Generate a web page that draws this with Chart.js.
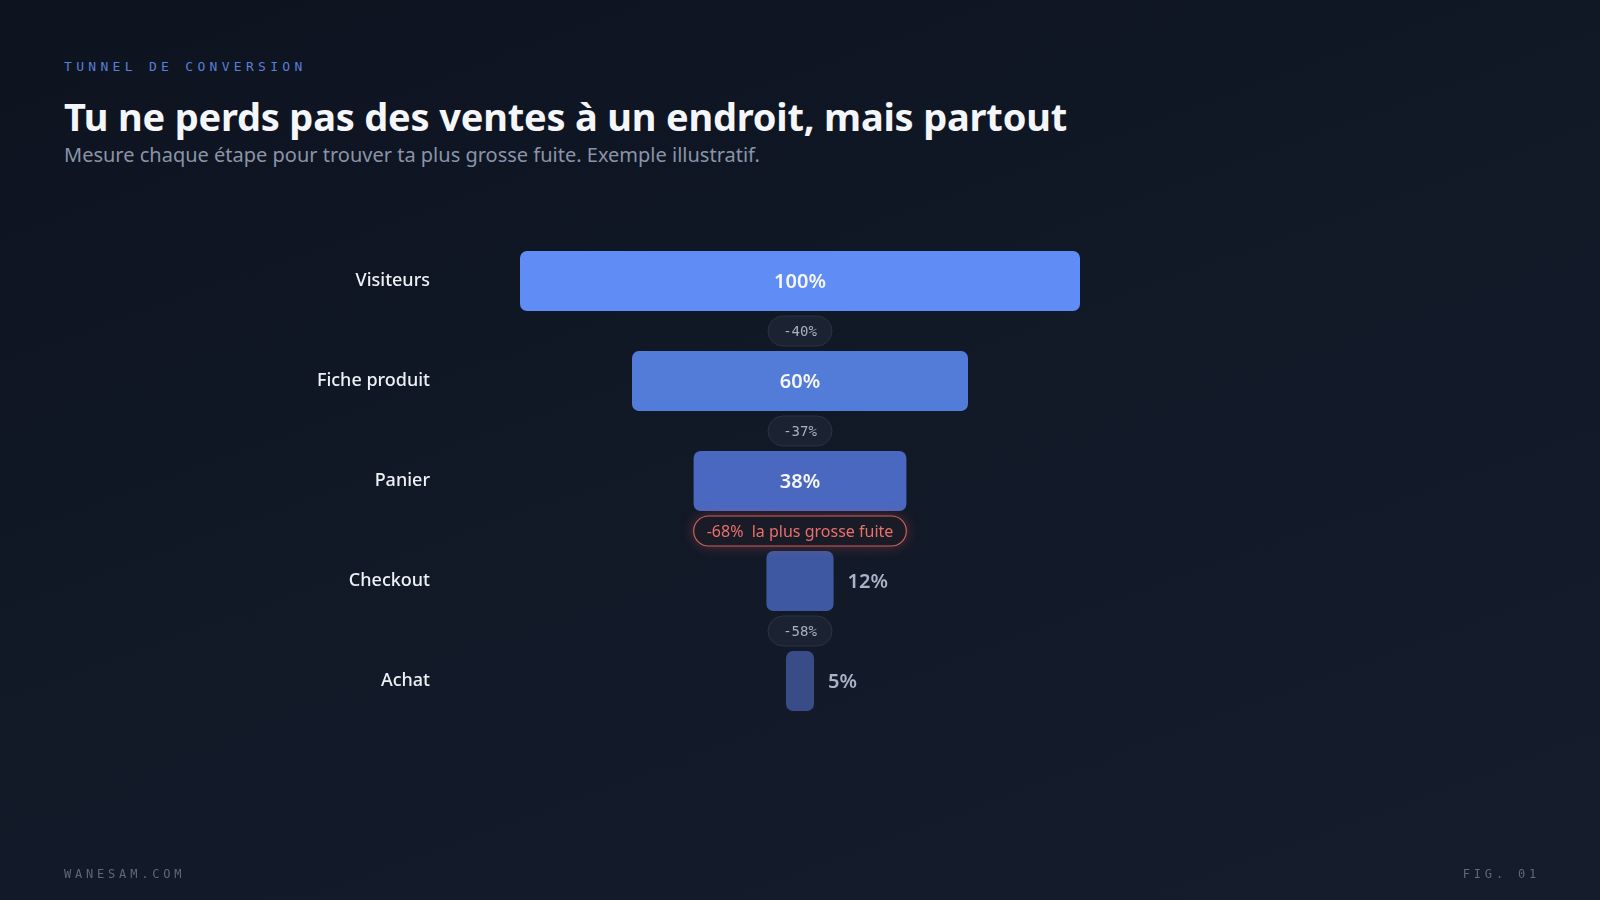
<!DOCTYPE html>
<html lang="fr">
<head>
<meta charset="utf-8">
<script src="https://cdn.jsdelivr.net/npm/chart.js@4/dist/chart.umd.min.js"></script>
<style>
  html, body { margin: 0; padding: 0; }
  body {
    width: 1600px; height: 900px; overflow: hidden; position: relative;
    background: linear-gradient(160deg, #0d131f 0%, #111826 45%, #151d2d 100%);
    font-family: "Noto Sans", sans-serif;
  }
  #chart { position: absolute; left: 0; top: 0; }
  .kicker {
    position: absolute; left: 64px; top: 59px;
    font-family: "DejaVu Sans Mono", monospace; font-size: 13px;
    letter-spacing: 4.3px; color: #5a7fd8;
  }
  h1 {
    position: absolute; left: 64px; top: 90px; margin: 0;
    font-size: 38px; font-weight: 700; color: #f4f6fa; letter-spacing: -0.2px;
  }
  .sub {
    position: absolute; left: 64px; top: 141px;
    font-size: 20px; color: #8a94a8;
  }
  .foot {
    position: absolute; top: 867px;
    font-family: "DejaVu Sans Mono", monospace; font-size: 12px;
    letter-spacing: 3.8px; color: #5f6878;
  }
</style>
</head>
<body>
<div class="kicker">TUNNEL DE CONVERSION</div>
<h1>Tu ne perds pas des ventes à un endroit, mais partout</h1>
<div class="sub">Mesure chaque étape pour trouver ta plus grosse fuite. Exemple illustratif.</div>
<canvas id="chart" width="1600" height="900"></canvas>
<div class="foot" style="left:64px">WANESAM.COM</div>
<div class="foot" style="right:60px">FIG. 01</div>

<script>
const steps = ['Visiteurs', 'Fiche produit', 'Panier', 'Checkout', 'Achat'];
const values = [100, 60, 38, 12, 5];
const drops = [-40, -37, -68, -58];
const leakNote = 'la plus grosse fuite';
const barColors = ['#608cf5', '#537cd8', '#4a68c0', '#3f58a2', '#394c88'];

// la plus grosse perte entre deux etapes
const worst = drops.indexOf(Math.min(...drops));

function roundRect(ctx, x, y, w, h, r) {
    ctx.beginPath();
    ctx.moveTo(x + r, y);
    ctx.arcTo(x + w, y, x + w, y + h, r);
    ctx.arcTo(x + w, y + h, x, y + h, r);
    ctx.arcTo(x, y + h, x, y, r);
    ctx.arcTo(x, y, x + w, y, r);
    ctx.closePath();
}

const funnelLabels = {
    id: 'funnelLabels',
    afterDatasetsDraw(chart) {
        const ctx = chart.ctx;
        const meta = chart.getDatasetMeta(0);
        const yScale = chart.scales.y;
        ctx.save();

        // pourcentages
        meta.data.forEach((bar, i) => {
            const w = Math.abs(bar.x - bar.base);
            const txt = values[i] + '%';
            ctx.textBaseline = 'middle';
            ctx.font = '600 20px "Noto Sans"';
            if (w > 120) {
                ctx.fillStyle = '#f5f7fb';
                ctx.textAlign = 'center';
                ctx.fillText(txt, (bar.x + bar.base) / 2, bar.y + 1);
            } else {
                ctx.fillStyle = '#a9b3c6';
                ctx.textAlign = 'left';
                ctx.fillText(txt, Math.max(bar.x, bar.base) + 14, bar.y + 1);
            }
        });

        // pastilles de perte
        const cx = chart.scales.x.getPixelForValue(0);
        drops.forEach((d, i) => {
            const y = (yScale.getPixelForValue(i) + yScale.getPixelForValue(i + 1)) / 2;
            const h = 30;
            if (i === worst) {
                const txt = d + '%  ' + leakNote;
                ctx.font = '16px "Noto Sans"';
                const w = ctx.measureText(txt).width + 26;
                ctx.shadowColor = 'rgba(230,90,90,0.35)';
                ctx.shadowBlur = 14;
                roundRect(ctx, cx - w / 2, y - h / 2, w, h, h / 2);
                ctx.fillStyle = '#191b26';
                ctx.fill();
                ctx.shadowBlur = 0;
                ctx.strokeStyle = '#cf5f5c';
                ctx.lineWidth = 1.2;
                ctx.stroke();
                ctx.fillStyle = '#e8716d';
                ctx.textAlign = 'center';
                ctx.fillText(txt, cx, y + 1);
            } else {
                const txt = d + '%';
                ctx.font = '14px "DejaVu Sans Mono"';
                const w = 64;
                roundRect(ctx, cx - w / 2, y - h / 2, w, h, h / 2);
                ctx.fillStyle = '#1b2231';
                ctx.fill();
                ctx.strokeStyle = '#2b3344';
                ctx.lineWidth = 1;
                ctx.stroke();
                ctx.fillStyle = '#a8b1c1';
                ctx.textAlign = 'center';
                ctx.fillText(txt, cx, y + 1);
            }
        });
        ctx.restore();
    }
};

const ctx = document.getElementById('chart').getContext('2d');
new Chart(ctx, {
    type: 'bar',
    data: {
        labels: steps,
        datasets: [{
            data: values.map(v => [-v / 2, v / 2]),
            backgroundColor: barColors,
            borderRadius: 7,
            borderSkipped: false,
            barPercentage: 0.6,
            categoryPercentage: 1
        }]
    },
    options: {
        indexAxis: 'y',
        responsive: false,
        animation: false,
        layout: { padding: { top: 231, bottom: 169, left: 0, right: 520 } },
        plugins: { legend: { display: false }, tooltip: { enabled: false } },
        scales: {
            x: { display: false, min: -50, max: 50 },
            y: {
                grid: { display: false, drawTicks: false },
                border: { display: false },
                ticks: {
                    padding: 90,
                    color: '#eef1f6',
                    font: { family: 'Noto Sans', size: 18, weight: '500' }
                },
                afterFit(scale) { scale.width = 520; }
            }
        }
    },
    plugins: [funnelLabels]
});
</script>
</body>
</html>
